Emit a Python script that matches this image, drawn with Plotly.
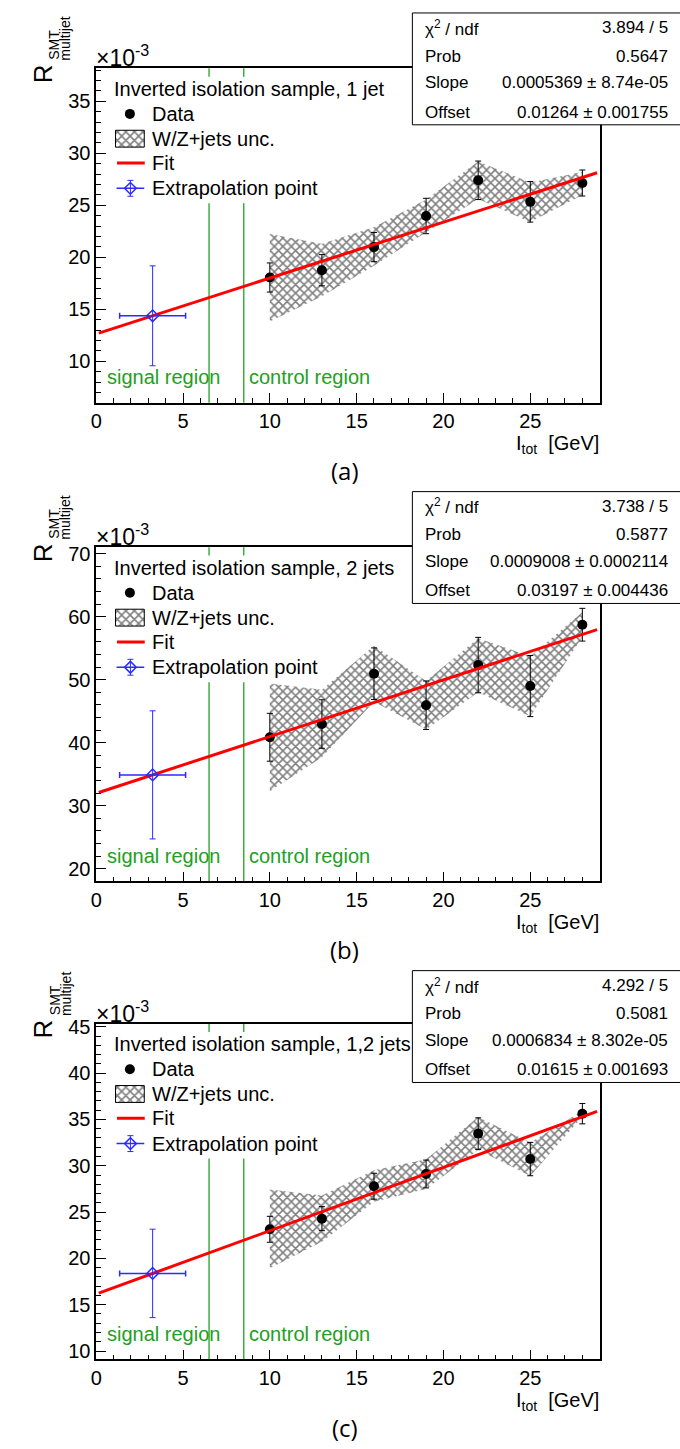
import plotly.graph_objects as go

# ---------------- data (values in units of 1e-3) ----------------
x_bins = [10, 13, 16, 19, 22, 25, 28]

r1_vals = [18.06, 18.76, 20.98, 23.97, 27.40, 25.33, 27.14]
r1_errs = [1.40, 1.50, 1.40, 1.70, 1.85, 1.95, 1.25]
r1_band_hi = [22.25, 21.30, 22.90, 25.55, 29.20, 27.20, 28.20]
r1_band_lo = [13.84, 16.25, 19.20, 22.40, 25.60, 23.40, 26.00]

r2_vals = [40.87, 42.97, 50.96, 45.96, 52.33, 49.00, 58.74]
r2_errs = [3.80, 3.85, 4.10, 3.85, 4.40, 4.85, 2.60]
r2_band_hi = [49.40, 48.40, 55.40, 49.80, 56.60, 53.75, 60.70]
r2_band_lo = [32.30, 37.70, 46.50, 42.10, 48.00, 44.20, 56.80]

r3_vals = [23.14, 24.29, 27.79, 29.11, 33.47, 30.72, 35.62]
r3_errs = [1.40, 1.30, 1.40, 1.50, 1.70, 1.80, 1.10]
r3_band_hi = [27.43, 26.80, 29.50, 30.70, 35.25, 32.50, 35.90]
r3_band_lo = [18.93, 21.80, 26.10, 27.50, 31.70, 28.90, 35.30]

extrap_x = 3.25
extrap_xerr = 1.9
extrap_y = [14.38, 34.90, 18.38]
extrap_yerr = [4.80, 10.17, 4.77]

fit_offset = [12.64, 31.97, 16.15]
fit_slope = [0.5369, 0.9008, 0.6834]
fit_xrange = [0.15, 28.85]

stats_chi2 = ["3.894 / 5", "3.738 / 5", "4.292 / 5"]
stats_prob = ["0.5647", "0.5877", "0.5081"]
stats_slope = ["0.0005369 ± 8.74e-05", "0.0009008 ± 0.0002114", "0.0006834 ± 8.302e-05"]
stats_offset = ["0.01264 ± 0.001755", "0.03197 ± 0.004436", "0.01615 ± 0.001693"]

legend_titles = ["Inverted isolation sample, 1 jet",
                 "Inverted isolation sample, 2 jets",
                 "Inverted isolation sample, 1,2 jets"]
legend_labels = ["Data", "W/Z+jets unc.", "Fit", "Extrapolation point"]
panel_labels = ["(a)", "(b)", "(c)"]
region_bounds = [6.5, 8.5]
region_texts = ["signal region", "control region"]

x_range = [0, 29]
y_ranges = [[6.03, 38.17], [18.0, 71.05], [9.1, 45.35]]
y_dticks = [5, 10, 5]
y_minor = [1, 2, 1]

panels = [
    (r1_vals, r1_errs, r1_band_hi, r1_band_lo),
    (r2_vals, r2_errs, r2_band_hi, r2_band_lo),
    (r3_vals, r3_errs, r3_band_hi, r3_band_lo),
]

# ---------------- layout constants (pixels) ----------------
W, H = 680, 1449
FL, FR = 91, 599
tops = [60.7, 543.3, 1023.3]
bots = [397.7, 880.0, 1361.7]
stat_tops = [5.0, 487.3, 970.0]
STAT_H = 112.7
FONT = "Liberation Sans, Arial, Helvetica, sans-serif"
GREEN = "#22a022"
BLUE = "#2b2bff"
RED = "#ff0000"
HATCH = dict(shape="x", fgcolor="black", size=6, solidity=0.45)


def px2x(px):
    return x_range[0] + (px - FL) / (FR - FL) * (x_range[1] - x_range[0])


def py2y(i, py):
    lo, hi = y_ranges[i]
    return hi - (py - tops[i]) / (bots[i] - tops[i]) * (hi - lo)


def pxp(px):
    return px / W


def pyp(py):
    return 1 - py / H


fig = go.Figure()
annotations = []
shapes = []


def ann(x, y, text, size=20, color="black", xanchor="left", yanchor="middle",
        angle=0, family=FONT):
    annotations.append(dict(
        x=pxp(x), y=pyp(y), xref="paper", yref="paper", text=text,
        showarrow=False, xanchor=xanchor, yanchor=yanchor, textangle=angle,
        font=dict(family=family, size=size, color=color), borderpad=0))


for i, (vals, errs, bhi, blo) in enumerate(panels):
    sfx = "" if i == 0 else str(i + 1)
    xa, ya = "x" + sfx, "y" + sfx
    t, b = tops[i], bots[i]

    # band
    fig.add_trace(go.Scatter(
        x=x_bins + x_bins[::-1], y=bhi + blo[::-1], xaxis=xa, yaxis=ya,
        mode="lines", fill="toself", fillcolor="rgba(0,0,0,0)",
        line=dict(width=0, color="rgba(0,0,0,0)"),
        fillpattern=HATCH, showlegend=False, hoverinfo="skip"))
    # data
    fig.add_trace(go.Scatter(
        x=x_bins, y=vals, xaxis=xa, yaxis=ya, mode="markers",
        marker=dict(color="black", size=10),
        error_y=dict(type="data", array=errs, color="black", thickness=1, width=3),
        showlegend=False))
    # fit
    fx = fit_xrange
    fy = [fit_offset[i] + fit_slope[i] * v for v in fx]
    fig.add_trace(go.Scatter(
        x=fx, y=fy, xaxis=xa, yaxis=ya, mode="lines",
        line=dict(color=RED, width=3), showlegend=False))
    # extrapolation point
    fig.add_trace(go.Scatter(
        x=[extrap_x], y=[extrap_y[i]], xaxis=xa, yaxis=ya, mode="markers",
        marker=dict(symbol="diamond-open", color=BLUE, size=9, line=dict(width=1.5)),
        error_x=dict(type="data", array=[extrap_xerr], color=BLUE, thickness=1.5, width=3),
        error_y=dict(type="data", array=[extrap_yerr[i]], color=BLUE, thickness=1, width=3),
        showlegend=False))

    # green region lines (below), covered by the white legend box
    for xb in region_bounds:
        shapes.append(dict(type="line", xref=xa, yref=ya + " domain",
                           x0=xb, x1=xb, y0=0, y1=1, layer="below",
                           line=dict(color=GREEN, width=1.3)))
    shapes.append(dict(type="rect", xref="paper", yref="paper",
                       x0=pxp(104), x1=pxp(400), y0=pyp(t + 136), y1=pyp(t + 8.5),
                       layer="below", fillcolor="white", line=dict(width=0)))

    # legend
    rows = [t + 21, t + 46, t + 71, t + 95.5, t + 121]
    ann(108, rows[0], legend_titles[i])
    for k, lab in enumerate(legend_labels):
        ann(146, rows[k + 1], lab)
    fig.add_trace(go.Scatter(
        x=[px2x(125)], y=[py2y(i, rows[1])], xaxis=xa, yaxis=ya, mode="markers",
        marker=dict(color="black", size=10), showlegend=False))
    bx0, bx1 = px2x(110.5), px2x(139.5)
    by0, by1 = py2y(i, rows[2] + 8.5), py2y(i, rows[2] - 8.5)
    fig.add_trace(go.Scatter(
        x=[bx0, bx1, bx1, bx0, bx0], y=[by0, by0, by1, by1, by0], xaxis=xa, yaxis=ya,
        mode="lines", fill="toself", fillcolor="rgba(0,0,0,0)",
        line=dict(color="black", width=1), fillpattern=HATCH, showlegend=False))
    fig.add_trace(go.Scatter(
        x=[px2x(112), px2x(140)], y=[py2y(i, rows[3])] * 2, xaxis=xa, yaxis=ya,
        mode="lines", line=dict(color=RED, width=3), showlegend=False))
    fig.add_trace(go.Scatter(
        x=[px2x(125.5)], y=[py2y(i, rows[4])], xaxis=xa, yaxis=ya, mode="markers",
        marker=dict(symbol="diamond-open", color=BLUE, size=9, line=dict(width=1.5)),
        error_x=dict(type="data", array=[px2x(139.5) - px2x(125.5)], color=BLUE,
                     thickness=1.5, width=0),
        error_y=dict(type="data", array=[py2y(i, rows[4] - 8) - py2y(i, rows[4])],
                     color=BLUE, thickness=1, width=3),
        showlegend=False))

    # region labels
    ann(101, b - 26, region_texts[0], color=GREEN)
    ann(244.5, b - 26, region_texts[1], color=GREEN)

    # stats box
    st = stat_tops[i]
    shapes.append(dict(type="rect", xref="paper", yref="paper",
                       x0=pxp(410), x1=pxp(682), y0=pyp(st + STAT_H), y1=pyp(st),
                       layer="above", fillcolor="white", line=dict(color="black", width=1)))
    srows = [st + 15, st + 43.5, st + 70.5, st + 100]
    slabels = ["χ<sup>2</sup> / ndf", "Prob", "Slope", "Offset"]
    svals = [stats_chi2[i], stats_prob[i], stats_slope[i], stats_offset[i]]
    for k in range(4):
        ann(422, srows[k], slabels[k], size=17)
        ann(669, srows[k], svals[k], size=17, xanchor="right")

    # axis titles and labels
    ann(90, t - 12, "×10<sup>-3</sup>", size=23, yanchor="middle")
    ann(37, t + 16, "R", size=26, angle=-90, xanchor="center", yanchor="bottom")
    ann(49, t - 7, "SMT", size=14, angle=-90, xanchor="center", yanchor="bottom")
    ann(60, t - 7, "multijet", size=14, angle=-90, xanchor="center", yanchor="bottom")
    ann(599, b + 42.5, "I<sub>tot</sub>  [GeV]", size=20, xanchor="right")
    ann(342, b + 68.5, panel_labels[i], size=24, xanchor="center",
        family="Open Sans, DejaVu Sans, sans-serif")

    # axes
    axis_common = dict(showline=True, linecolor="black", linewidth=1.5, mirror=True,
                       showgrid=False, zeroline=False, ticks="inside", ticklen=10,
                       tickwidth=1, tickcolor="black",
                       tickfont=dict(family=FONT, size=20, color="black"))
    fig.update_layout(**{
        ("xaxis" + sfx): dict(domain=[FL / W, FR / W], range=x_range, anchor=ya,
                              tick0=0, dtick=5,
                              minor=dict(ticks="inside", ticklen=5, dtick=1, tickcolor="black"),
                              **axis_common),
        ("yaxis" + sfx): dict(domain=[pyp(b), pyp(t)], range=y_ranges[i], anchor=xa,
                              tick0=0, dtick=y_dticks[i],
                              minor=dict(ticks="inside", ticklen=5, dtick=y_minor[i],
                                         tickcolor="black"),
                              **axis_common),
    })

fig.update_layout(width=W, height=H, margin=dict(l=0, r=0, t=0, b=0),
                  paper_bgcolor="white", plot_bgcolor="white", showlegend=False,
                  annotations=annotations, shapes=shapes)
fig.write_html("out.html",
               post_script="document.body.style.margin='0';document.body.style.padding='0';"
                           "document.documentElement.style.overflow='hidden';")
